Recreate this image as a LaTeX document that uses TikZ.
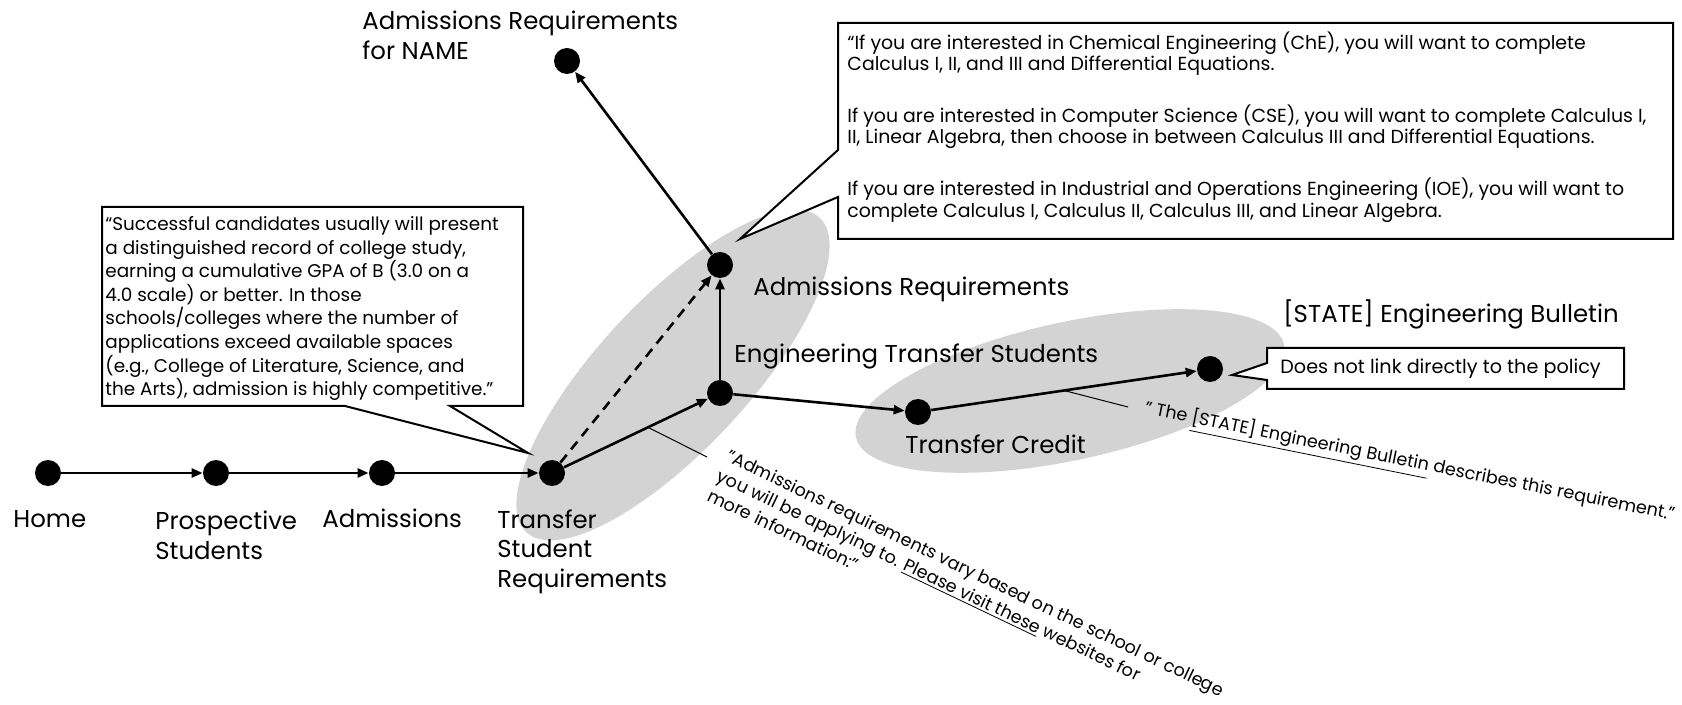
\documentclass[tikz,border=0pt]{standalone}
\usepackage{fontspec}
\setmainfont{Poppins}
\usetikzlibrary{arrows.meta,calc}
\definecolor{ellgray}{RGB}{211,211,211}
\begin{document}
\begin{tikzpicture}[x=0.5pt,y=-0.5pt,
  dot/.style={circle,fill=black,inner sep=0pt,minimum size=13pt},
  link/.style={line width=1.3pt,-{Triangle[length=5.5pt,width=4.5pt]}},
  lbl/.style={inner sep=0pt,font=\fontsize{12.2}{14.8}\selectfont,align=left},
  thinline/.style={line width=0.5pt},
  callout/.style={draw=black,line width=1pt,fill=white,line join=miter},
  boxtext/.style={inner sep=0pt,align=left}]
\useasboundingbox (0,0) rectangle (1682,705);
% grey groups
\fill[ellgray, rotate around={47:(673,375)}] (673,375) ellipse [x radius=107.5pt, y radius=37.5pt];
\fill[ellgray, rotate around={12.2:(1070,391)}] (1070,391) ellipse [x radius=109.5pt, y radius=34.5pt];
% dots
\node[dot] (home) at (48,473) {};
\node[dot] (pros) at (216,473) {};
\node[dot] (adm) at (382,473) {};
\node[dot] (tsr) at (552,473) {};
\node[dot] (ets) at (720,393) {};
\node[dot] (ar) at (720,265) {};
\node[dot] (arn) at (567,61) {};
\node[dot] (tc) at (918,412) {};
\node[dot] (eb) at (1210,369) {};
% connectors
\draw[link] (home) -- (pros);
\draw[link] (pros) -- (adm);
\draw[link] (adm) -- (tsr);
\draw[link] (tsr) -- (ets);
\draw[link,dash pattern=on 5pt off 3.5pt] (tsr) -- (ar);
\draw[link] (ets) -- (ar);
\draw[link] (ar) -- (arn);
\draw[link] (ets) -- (tc);
\draw[link] (tc) -- (eb);
% labels
\node[lbl,anchor=mid west] (lhome) at (13,522) {Home};
\node[lbl,anchor=north west] (lpros) at (155,511) {Prospective\\Students};
\node[lbl,anchor=mid west] (ladm) at (322,522) {Admissions};
\node[lbl,anchor=north west] (ltsr) at (497,509) {Transfer\\Student\\Requirements};
\node[lbl,anchor=mid west] (lets) at (734,357) {Engineering Transfer Students};
\node[lbl,anchor=mid west] (lar) at (753,290) {Admissions Requirements};
\node[lbl,anchor=north west] (larn) at (362,11) {Admissions Requirements\\for NAME};
\node[lbl,anchor=mid west] (ltc) at (905,448) {Transfer Credit};
\node[lbl,anchor=mid west] (leb) at (1283,317) {[STATE] Engineering Bulletin};
% callout 1
\draw[callout] (102,207) -- (523,207) -- (523,406) -- (450,406) -- (528,453) -- (345,406) -- (102,406) -- cycle;
\node[boxtext,anchor=north west,font=\fontsize{9.2}{11.8}\selectfont] (t1) at (105,216)
 {“Successful candidates usually will present\\a distinguished record of college study,\\earning a cumulative GPA of B (3.0 on a\\4.0 scale) or better. In those\\schools/colleges where the number of\\applications exceed available spaces\\(e.g., College of Literature, Science, and\\the Arts), admission is highly competitive."};
% callout 2
\draw[callout] (838,23) -- (1673,23) -- (1673,239) -- (838,239) -- (838,197) -- (740,239) -- (838,150) -- cycle;
\node[boxtext,anchor=north west,font=\fontsize{9.45}{10.6}\selectfont] (t2) at (847,31)
 {“If you are interested in Chemical Engineering (ChE), you will want to complete\\Calculus I, II, and III and Differential Equations.\\[13.8pt]If you are interested in Computer Science (CSE), you will want to complete Calculus I,\\II, Linear Algebra, then choose in between Calculus III and Differential Equations.\\[13.8pt]If you are interested in Industrial and Operations Engineering (IOE), you will want to\\complete Calculus I, Calculus II, Calculus III, and Linear Algebra.};
% callout 3
\draw[callout] (1267,348) -- (1624,348) -- (1624,389) -- (1267,389) -- (1267,380) -- (1232,375) -- (1267,363) -- cycle;
\node[boxtext,anchor=mid west,font=\fontsize{9.6}{10}\selectfont] (t3) at (1280,368) {Does not link directly to the policy};
% rotated quotes
\coordinate (q1end) at (707,457);
\coordinate (q2end) at (1128,407);
\draw[thinline] ($(tsr)!0.571!(ets)$) -- (q1end);
\draw[thinline] ($(tc)!0.5!(eb)$) -- (q2end);
\node[boxtext,anchor=north west,rotate=-25.5,font=\fontsize{8.8}{11}\selectfont] (q1) at (731,448)
 {"Admissions requirements vary based on the school or college\\you will be applying to. \underline{Please visit these} websites for\\more information:"};
\node[boxtext,anchor=north west,rotate=-11.4,font=\fontsize{8.8}{10}\selectfont] (q2) at (1147,397)
 {" The \underline{[STATE] Engineering Bulletin} describes this requirement."};
\end{tikzpicture}
\end{document}
